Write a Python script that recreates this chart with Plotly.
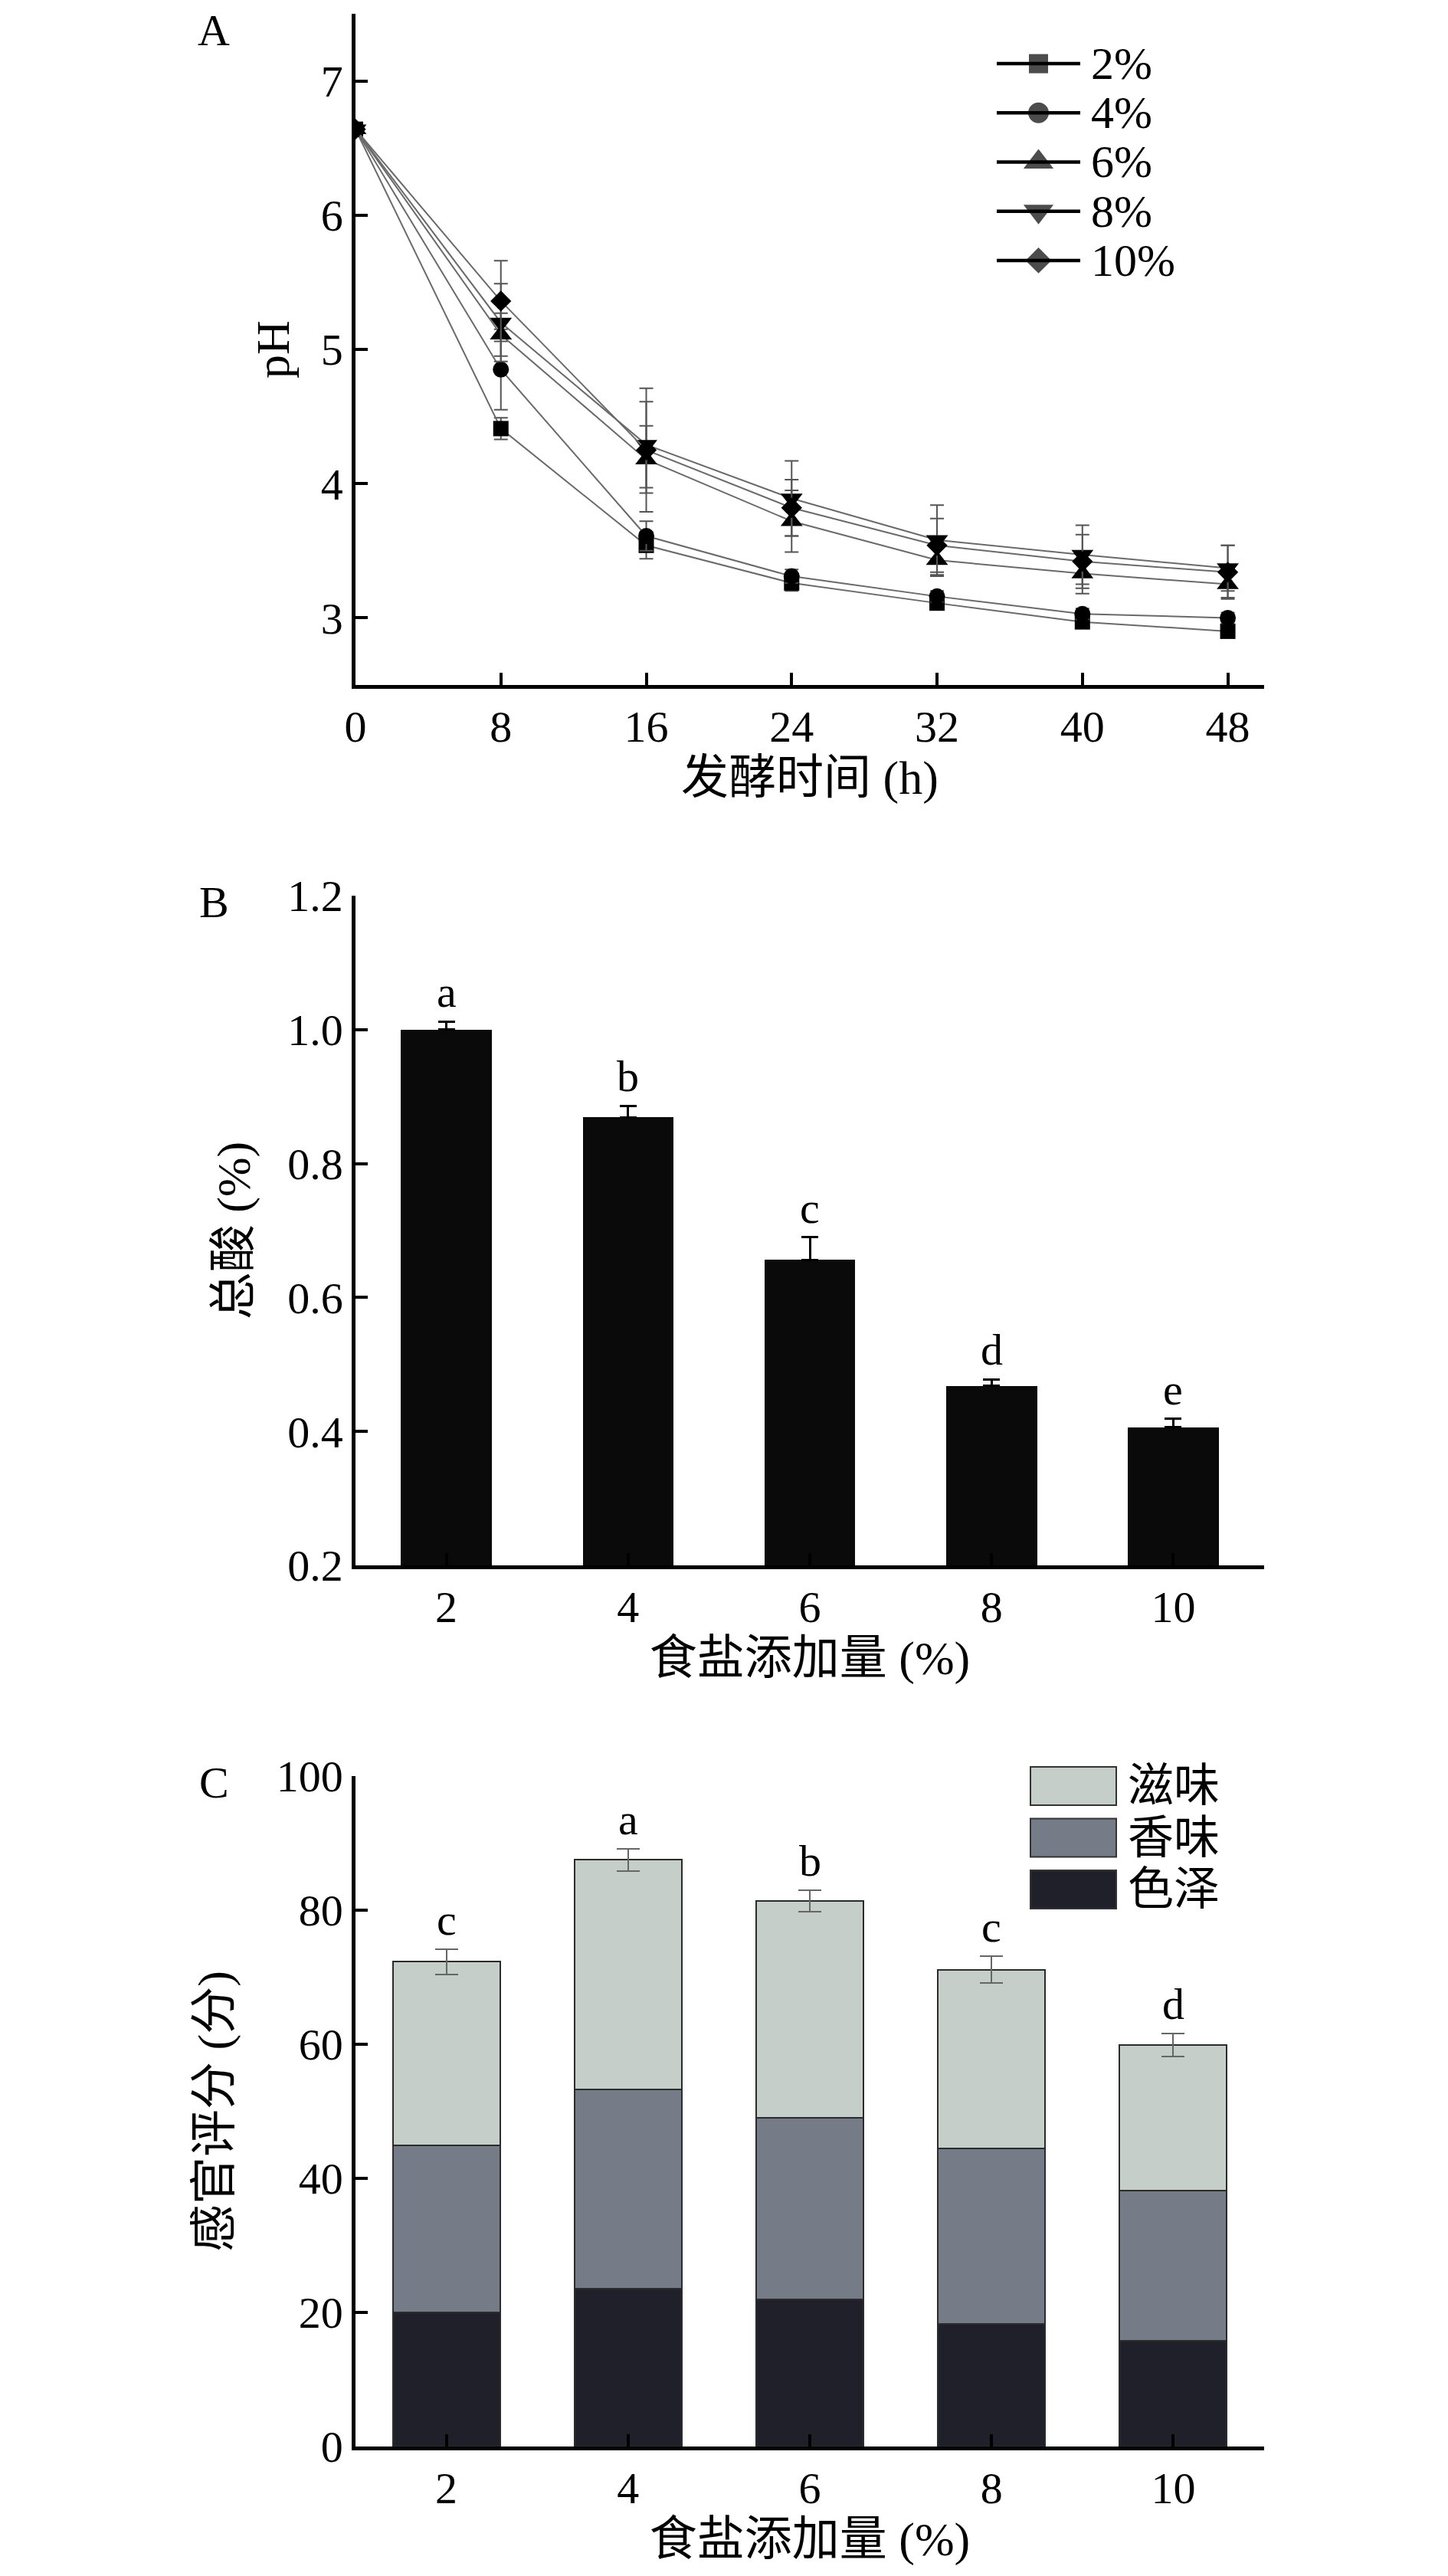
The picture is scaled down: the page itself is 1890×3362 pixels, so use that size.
import plotly.graph_objects as go

PAGE_W, PAGE_H = 1890, 3362
OFF = 8  # default page body margin
W, H = PAGE_W - OFF, PAGE_H - OFF
FONT = "Liberation Serif, Noto Sans CJK SC, serif"

# ---------------- data ----------------
# Panel A: pH during fermentation
time_h = [0, 8, 16, 24, 32, 40, 48]
series_names = ["2%", "4%", "6%", "8%", "10%"]
ph_2 = [6.64, 4.41, 3.54, 3.26, 3.11, 2.97, 2.90]
ph_4 = [6.64, 4.85, 3.61, 3.31, 3.16, 3.03, 3.00]
ph_6 = [6.64, 5.11, 4.18, 3.72, 3.43, 3.33, 3.25]
ph_8 = [6.64, 5.20, 4.29, 3.89, 3.58, 3.47, 3.37]
ph_10 = [6.64, 5.36, 4.25, 3.82, 3.54, 3.42, 3.34]
err_2 = [0.02, 0.08, 0.10, 0.06, 0.04, 0.04, 0.03]
err_4 = [0.02, 0.30, 0.11, 0.05, 0.04, 0.04, 0.04]
err_6 = [0.02, 0.16, 0.25, 0.23, 0.12, 0.15, 0.10]
err_8 = [0.02, 0.29, 0.32, 0.28, 0.26, 0.22, 0.17]
err_10 = [0.02, 0.30, 0.46, 0.21, 0.20, 0.20, 0.20]
x_ticks_a = [0, 8, 16, 24, 32, 40, 48]
y_ticks_a = [3, 4, 5, 6, 7]

# Panel B: total acid
salt = [2, 4, 6, 8, 10]
salt_labels = ["2", "4", "6", "8", "10"]
acid = [1.00, 0.869, 0.656, 0.468, 0.406]
acid_err = [0.012, 0.017, 0.034, 0.010, 0.013]
acid_letters = ["a", "b", "c", "d", "e"]
y_ticks_b = [0.2, 0.4, 0.6, 0.8, 1.0, 1.2]

# Panel C: sensory score (stacked)
color_score = [20.0, 23.5, 22.0, 18.3, 15.8]
aroma_score = [24.9, 29.8, 27.0, 26.2, 22.4]
taste_score = [27.4, 34.2, 32.4, 26.6, 21.7]
total_err = [1.9, 1.7, 1.6, 2.0, 1.7]
score_letters = ["c", "a", "b", "c", "d"]
y_ticks_c = [0, 20, 40, 60, 80, 100]
stack_names = ["色泽", "香味", "滋味"]
stack_colors = ["#20202b", "#757b87", "#c6ceca"]

# ---------------- helpers (page pixel -> paper fraction) ----------------
def fx(px):
    return (px - OFF) / W

def fy(py):
    return 1 - (py - OFF) / H

ph_series = [ph_2, ph_4, ph_6, ph_8, ph_10]
err_series = [err_2, err_4, err_6, err_8, err_10]
symbols = ["square", "circle", "triangle-up", "triangle-down", "diamond"]
plot_sizes = [20, 21, 25, 25, 21]
legend_sizes = [25, 27, 34, 34, 26]

fig = go.Figure()

# Panel A traces
for name, ys, es, sym, ms in zip(series_names, ph_series, err_series, symbols, plot_sizes):
    fig.add_trace(go.Scatter(
        x=time_h, y=ys, name=name, mode="lines+markers",
        line=dict(color="#6a6a6a", width=2),
        marker=dict(symbol=sym, size=ms, color="black", line=dict(width=0)),
        error_y=dict(type="data", array=es, color="#555555", thickness=2, width=9),
        xaxis="x", yaxis="y", showlegend=False,
    ))

# Panel A legend glyphs (on hidden axis)
for i, (name, sym, ms) in enumerate(zip(series_names, symbols, legend_sizes)):
    fig.add_trace(go.Scatter(
        x=[0, 0.5, 1], y=[-i, -i, -i], mode="lines+markers",
        line=dict(color="black", width=4.5),
        marker=dict(symbol=sym, size=[0, ms, 0], color="black", line=dict(width=0)),
        xaxis="x4", yaxis="y4", showlegend=False, hoverinfo="skip",
    ))
    fig.add_annotation(x=fx(1422), y=-i, xref="paper", yref="y4", text=name,
                       showarrow=False, xanchor="left", yanchor="middle",
                       font=dict(family=FONT, size=60, color="black"))

# Panel B
fig.add_trace(go.Bar(
    x=salt, y=acid, width=1.0, marker=dict(color="#0a0a0a", line=dict(width=0)),
    error_y=dict(type="data", array=acid_err, symmetric=False,
                 arrayminus=[0] * len(acid_err), color="black", thickness=3, width=11),
    xaxis="x2", yaxis="y2", showlegend=False, name="总酸",
))
for xs, v, e, t in zip(salt, acid, acid_err, acid_letters):
    fig.add_annotation(x=xs, y=v + e, xref="x2", yref="y2", text=t, showarrow=False,
                       xanchor="center", yanchor="bottom", yshift=4,
                       font=dict(family=FONT, size=58, color="black"))

# Panel C stacked bars
stack_vals = [color_score, aroma_score, taste_score]
for k, (nm, vals, col) in enumerate(zip(stack_names, stack_vals, stack_colors)):
    kw = {}
    if k == 2:
        kw["error_y"] = dict(type="data", array=total_err, color="#666666", thickness=2, width=15)
    fig.add_trace(go.Bar(
        x=salt, y=vals, width=1.18, name=nm,
        marker=dict(color=col, line=dict(color="#2b2b2b", width=2)),
        xaxis="x3", yaxis="y3", showlegend=False, **kw,
    ))
totals = [a + b + c for a, b, c in zip(color_score, aroma_score, taste_score)]
for xs, v, e, t in zip(salt, totals, total_err, score_letters):
    fig.add_annotation(x=xs, y=v + e, xref="x3", yref="y3", text=t, showarrow=False,
                       xanchor="center", yanchor="bottom", yshift=4,
                       font=dict(family=FONT, size=58, color="black"))

# Panel C legend (manual boxes)
leg_rows = [stack_names[2], stack_names[1], stack_names[0]]
leg_cols = [stack_colors[2], stack_colors[1], stack_colors[0]]
for i, (nm, col) in enumerate(zip(leg_rows, leg_cols)):
    cy = 2331 + 67.5 * i
    fig.add_shape(type="rect", xref="paper", yref="paper",
                  x0=fx(1345), x1=fx(1457), y0=fy(cy + 25), y1=fy(cy - 25),
                  fillcolor=col, line=dict(color="#333333", width=2))
    fig.add_annotation(x=fx(1470), y=fy(cy), xref="paper", yref="paper", text=nm,
                       showarrow=False, xanchor="left", yanchor="middle",
                       font=dict(family=FONT, size=60, color="black"))

# Panel letters
for lab, py in zip(["A", "B", "C"], [39, 1177, 2326]):
    fig.add_annotation(x=fx(279), y=fy(py), xref="paper", yref="paper", text=lab,
                       showarrow=False, xanchor="center", yanchor="middle",
                       font=dict(family=FONT, size=58, color="black"))

axis_common = dict(showline=True, linecolor="black", linewidth=4.5, ticks="inside",
                   ticklen=16, tickwidth=4, tickcolor="black", showgrid=False,
                   zeroline=False, tickfont=dict(family=FONT, size=58, color="black"),
                   mirror=False, automargin=False)
title_font = dict(family=FONT, size=62, color="black")

xdom = [fx(464), fx(1650)]
fig.update_layout(
    template="none",
    width=W, height=H, margin=dict(l=0, r=0, t=0, b=0, autoexpand=False),
    paper_bgcolor="white", plot_bgcolor="white",
    barmode="stack", font=dict(family=FONT, color="black"),
    xaxis=dict(domain=xdom, range=[0, 50], tickvals=x_ticks_a, anchor="y",
               title=dict(text="发酵时间 (h)", font=title_font, standoff=8), **axis_common),
    yaxis=dict(domain=[fy(894), fy(18)], range=[2.5, 7.5], tickvals=y_ticks_a, anchor="x",
               title=dict(text="pH", font=title_font, standoff=22), **axis_common),
    xaxis2=dict(domain=xdom, range=[1, 11], tickvals=salt, ticktext=salt_labels, anchor="y2",
                title=dict(text="食盐添加量 (%)", font=title_font, standoff=8), **axis_common),
    yaxis2=dict(domain=[fy(2043), fy(1169)], range=[0.2, 1.2], tickvals=y_ticks_b,
                tickformat=".1f", anchor="x2",
                title=dict(text="总酸 (%)", font=title_font, standoff=30), **axis_common),
    xaxis3=dict(domain=xdom, range=[1, 11], tickvals=salt, ticktext=salt_labels, anchor="y3",
                title=dict(text="食盐添加量 (%)", font=title_font, standoff=8), **axis_common),
    yaxis3=dict(domain=[fy(3193), fy(2318)], range=[0, 100], tickvals=y_ticks_c, anchor="x3",
                title=dict(text="感官评分 (分)", font=title_font, standoff=40), **axis_common),
    xaxis4=dict(domain=[fx(1301), fx(1410)], range=[0, 1], visible=False, anchor="y4",
                fixedrange=True),
    yaxis4=dict(domain=[fy(83 + 64.25 * 4 + 32), fy(83 - 32)], range=[-4.5, 0.5],
                visible=False, anchor="x4", fixedrange=True),
)

fig.write_html("out.html")
